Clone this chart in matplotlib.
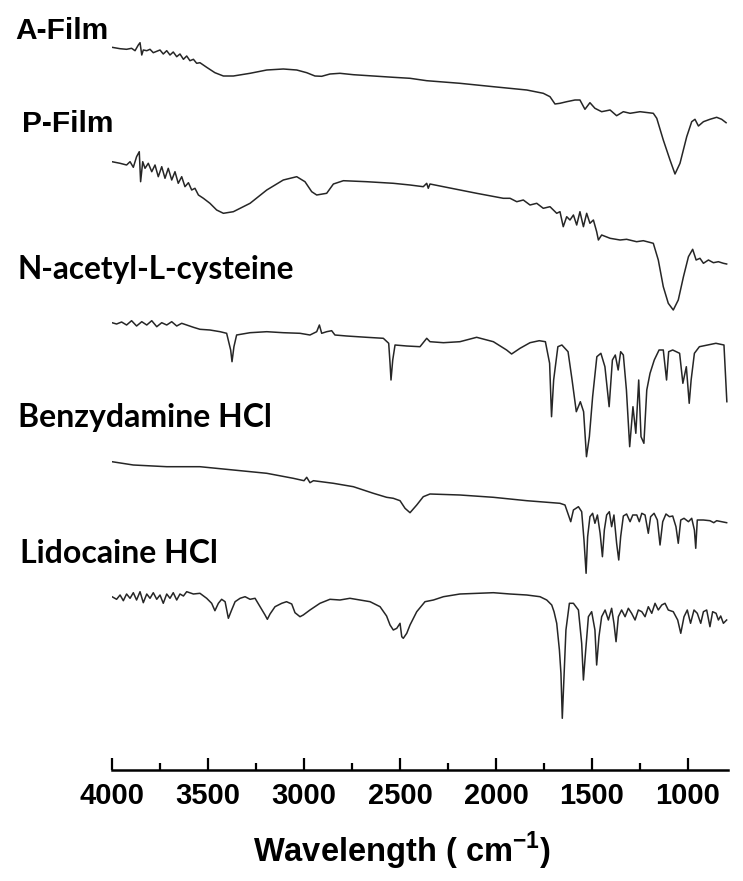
import matplotlib
matplotlib.use("Agg")
import matplotlib.pyplot as plt

# FTIR spectra (wavenumber in cm-1, offset transmittance in a.u.)
afilm_wn = [4000, 3958, 3924, 3898, 3880, 3863, 3854, 3845, 3837, 3819, 3802, 3785, 3767, 3750, 3733,
            3715, 3698, 3681, 3663, 3646, 3628, 3611, 3594, 3576, 3559, 3542, 3507, 3464, 3420, 3368,
            3281, 3194, 3108, 3038, 2986, 2943, 2908, 2865, 2813, 2743, 2639, 2535, 2448, 2361, 2188,
            2014, 1840, 1754, 1719, 1693, 1667, 1632, 1589, 1563, 1537, 1511, 1485, 1450, 1406, 1372,
            1337, 1302, 1250, 1181, 1163, 1129, 1094, 1068, 1042, 1007, 981, 964, 946, 920, 886,
            851, 825, 802]
afilm_t = [722.7, 721.3, 720.7, 721.7, 719.3, 725, 727.3, 715, 720, 719.3, 720.7, 717.3, 718.7, 720, 716,
           719.3, 715, 718, 713.3, 716, 710.7, 714, 709.3, 710.7, 706.7, 707.3, 702.7, 697.3, 694, 694,
           696.7, 700, 701, 700, 697.3, 694, 693.7, 696, 696.7, 695.3, 694, 692.7, 691.7, 689.3, 686.7,
           683.3, 680, 676.7, 673.3, 666, 666.7, 668.3, 670, 670, 660.7, 667.3, 661.7, 658.3, 660, 654.3,
           658.3, 656.7, 658.3, 656.7, 651.7, 630, 610, 596, 606.7, 633.3, 648.3, 650.7, 644, 648.3, 650.7,
           652.7, 650.7, 647.3]

pfilm_wn = [4000, 3958, 3924, 3906, 3889, 3872, 3858, 3851, 3840, 3828, 3811, 3793, 3776, 3759, 3741,
            3724, 3707, 3689, 3672, 3655, 3637, 3620, 3602, 3585, 3568, 3550, 3524, 3490, 3455, 3420,
            3368, 3281, 3194, 3108, 3038, 2995, 2960, 2934, 2882, 2847, 2795, 2674, 2535, 2448, 2379,
            2361, 2353, 2344, 2274, 2101, 1962, 1927, 1892, 1858, 1823, 1788, 1754, 1719, 1684, 1667,
            1650, 1632, 1615, 1597, 1580, 1563, 1545, 1528, 1511, 1493, 1476, 1467, 1450, 1406, 1354,
            1320, 1268, 1233, 1181, 1155, 1129, 1103, 1077, 1051, 1024, 998, 976, 958, 938, 920,
            894, 868, 842, 816, 799]
pfilm_t = [608.3, 606.7, 605, 608.3, 602.7, 613.3, 618.3, 588.3, 608.3, 601.7, 606.7, 598.3, 605, 593.3, 603.3,
           591.7, 601.7, 590, 598.3, 586.7, 593.3, 583.3, 587.3, 580, 581.7, 575, 571.7, 566.7, 560, 556.7,
           558.3, 566.7, 580, 590, 593.3, 588.3, 578.3, 575, 576.7, 586, 589.3, 588.3, 586.7, 585, 583.3,
           586.7, 581.7, 586, 583.3, 576.7, 571.7, 571.7, 568.3, 570, 565, 566.7, 561.7, 563.3, 556.7, 558.3,
           543.3, 553.3, 550, 555, 545, 558.3, 543.3, 556.7, 546.7, 550, 538.3, 530, 535, 531.7, 530,
           530.7, 528.3, 529.3, 526.7, 510, 483.3, 466.7, 460, 470, 493.3, 513.3, 520.7, 510, 511.7, 506.7,
           510, 507.3, 508.3, 506.7, 506]

nac_wn = [4000, 3976, 3950, 3924, 3898, 3872, 3845, 3819, 3793, 3767, 3741, 3715, 3689, 3663, 3637,
          3611, 3576, 3542, 3490, 3437, 3403, 3382, 3375, 3365, 3351, 3281, 3194, 3108, 3021, 2969,
          2934, 2920, 2908, 2882, 2856, 2839, 2778, 2674, 2587, 2559, 2552, 2547, 2538, 2526, 2465,
          2396, 2361, 2344, 2274, 2188, 2101, 2014, 1945, 1919, 1875, 1823, 1775, 1743, 1721, 1711,
          1700, 1678, 1657, 1625, 1604, 1582, 1561, 1544, 1529, 1514, 1497, 1475, 1454, 1433, 1411,
          1394, 1379, 1364, 1351, 1337, 1321, 1304, 1287, 1272, 1257, 1245, 1230, 1215, 1198, 1176,
          1151, 1129, 1112, 1101, 1080, 1044, 1027, 1009, 994, 984, 967, 941, 898, 855, 813, 798]
nac_t = [447.3, 446, 448, 445, 449.3, 444, 448.3, 445, 449.3, 443.3, 447.3, 445, 448.3, 444, 446.7,
         445, 442.7, 440.7, 440, 438.3, 436.7, 420, 408.3, 423.3, 435, 437.3, 438.3, 437.3, 436.7, 435,
         438.3, 445, 436.7, 438.3, 439.3, 435, 434, 432.7, 431.7, 426.7, 406.7, 390, 410, 425, 424,
         423.3, 431.7, 428.3, 427.3, 428.3, 432.7, 428.3, 420, 416, 421.7, 427.3, 429.3, 428.3, 406.7, 353.3,
         390, 423.3, 425, 418.3, 390, 358.3, 368.3, 358.3, 313.3, 333.3, 373.3, 413.3, 416.7, 403.3, 363.3,
         410, 415, 400, 418.3, 415, 380, 323.3, 363.3, 336.7, 390, 333.3, 326.7, 380, 396.7, 410,
         420, 420, 390, 418.3, 420, 416.7, 386.7, 403.3, 366.7, 390, 416.7, 423.3, 425, 426.7, 425, 368.3]

benz_wn = [4000, 3889, 3715, 3542, 3368, 3194, 3056, 3000, 2986, 2969, 2951, 2847, 2743, 2639, 2570,
           2535, 2500, 2474, 2448, 2413, 2379, 2344, 2188, 2014, 1840, 1667, 1641, 1623, 1611, 1597,
           1571, 1554, 1542, 1531, 1523, 1511, 1497, 1485, 1472, 1458, 1446, 1436, 1424, 1410, 1398,
           1386, 1372, 1361, 1351, 1337, 1320, 1302, 1288, 1267, 1254, 1241, 1224, 1207, 1195, 1177,
           1160, 1146, 1132, 1115, 1097, 1080, 1063, 1051, 1038, 1021, 998, 981, 967, 960, 952,
           920, 886, 866, 851, 825, 799]
benz_t = [308.3, 305, 303.3, 303.3, 300, 296.7, 291.7, 289.3, 292.7, 287.3, 289.3, 286.7, 283.3, 276.7, 272.7,
          271.7, 269.3, 261.7, 257.3, 265, 273.3, 276, 275, 272.7, 269.3, 266.7, 265, 255, 248.3, 260,
          263.3, 258.3, 230, 196.7, 233.3, 253.3, 256.7, 246.7, 255, 236.7, 213.3, 240, 255, 258.3, 243.3,
          255, 226.7, 210, 233.3, 254, 256, 248.3, 255, 255, 248.3, 256.7, 255, 236.7, 253.3, 256.7,
          250, 225, 248.3, 256, 253.3, 254, 243.3, 226.7, 250, 251.7, 248.3, 251.7, 240, 221.7, 250,
          250, 249.3, 247.3, 249.3, 248.3, 247.3]

lido_wn = [4000, 3976, 3958, 3941, 3924, 3906, 3889, 3872, 3854, 3837, 3819, 3802, 3785, 3767, 3750,
           3733, 3715, 3698, 3681, 3663, 3646, 3628, 3611, 3576, 3542, 3507, 3481, 3464, 3446, 3429,
           3411, 3394, 3377, 3359, 3333, 3307, 3281, 3255, 3229, 3203, 3191, 3177, 3151, 3116, 3091,
           3064, 3047, 3021, 3004, 2969, 2917, 2865, 2813, 2761, 2708, 2656, 2604, 2570, 2552, 2535,
           2517, 2500, 2491, 2483, 2465, 2448, 2413, 2370, 2326, 2274, 2188, 2101, 2014, 1927, 1840,
           1771, 1736, 1710, 1698, 1684, 1670, 1662, 1655, 1646, 1636, 1618, 1597, 1571, 1554, 1545,
           1533, 1519, 1502, 1485, 1476, 1464, 1450, 1432, 1415, 1398, 1386, 1375, 1363, 1346, 1328,
           1311, 1294, 1276, 1259, 1241, 1224, 1207, 1189, 1172, 1155, 1137, 1120, 1103, 1077, 1054,
           1038, 1021, 1004, 987, 969, 952, 934, 920, 903, 886, 872, 854, 842, 830, 816, 799]
lido_t = [173.3, 170.7, 175, 169.3, 176, 171.7, 177.3, 170, 178.3, 167.3, 176, 171.7, 177.3, 170.7, 175,
          166.7, 176, 171.7, 177.3, 170, 176, 174, 178.3, 176, 176.7, 171.7, 166.7, 159.3, 166.7, 170.7,
          168.3, 151.7, 160, 168.3, 171.7, 173.3, 170.7, 171.7, 163.3, 155, 150.7, 156, 163.3, 166.7, 168.3,
          166, 157.3, 153.3, 155, 160, 166.7, 170.7, 170, 171.7, 170, 168.3, 163.3, 154, 145, 140,
          141.7, 146.7, 133.3, 131.7, 136.7, 145, 158.3, 168.3, 170, 173.3, 176, 176.7, 177.3, 176, 175,
          173.3, 170, 165, 158.3, 146.7, 120, 96.7, 51.7, 93.3, 140, 166.7, 166.7, 160, 126.7, 90,
          120, 153.3, 158.3, 140, 105, 133.3, 153.3, 160, 150, 161.7, 146.7, 128.3, 153.3, 160, 153.3,
          161.7, 156.7, 150, 160, 158.3, 153.3, 163.3, 156.7, 166.7, 160, 165, 166.7, 160, 158.3, 150,
          136.7, 153.3, 160, 146.7, 160, 156.7, 146.7, 158.3, 160, 143.3, 158.3, 156.7, 150, 154, 146.7, 150]

tick_pos = [4000, 3500, 3000, 2500, 2000, 1500, 1000]
tick_labels = ["4000", "3500", "3000", "2500", "2000", "1500", "1000"]
minor_pos = [3750, 3250, 2750, 2250, 1750, 1250]

plt.rcParams["mathtext.fontset"] = "custom"
plt.rcParams["mathtext.rm"] = "Liberation Sans"
plt.rcParams["mathtext.bf"] = "Liberation Sans:bold"

W, H = 743, 881
fig = plt.figure(figsize=(W / 100, H / 100), dpi=100)
ax = fig.add_axes([112 / W, 111 / H, 616 / W, 770 / H])

for wn, t in [(afilm_wn, afilm_t), (pfilm_wn, pfilm_t), (nac_wn, nac_t),
              (benz_wn, benz_t), (lido_wn, lido_t)]:
    ax.plot(wn, t, color="#262626", lw=1.1)

ax.set_xlim(4000, 792)
ax.set_ylim(0, 770)
for s in ["left", "right", "top"]:
    ax.spines[s].set_visible(False)
ax.spines["bottom"].set_linewidth(1.8)
ax.set_yticks([])
ax.set_xticks(tick_pos)
ax.set_xticklabels(tick_labels, fontsize=21, fontweight="bold", family="Liberation Sans")
ax.set_xticks(minor_pos, minor=True)
ax.tick_params(axis="x", which="major", direction="in", length=9, width=1.6, pad=9)
ax.tick_params(axis="x", which="minor", direction="in", length=5, width=1.6)

fig.text(402 / W, (H - 862) / H, r"Wavelength ( cm$^{\mathbf{-1}}$)", ha="center", va="baseline",
         fontsize=23.5, fontweight="bold", family="Liberation Sans")

# spectrum names (pixel positions of left edge and baseline)
names = [("A-Film", 15, 39, "Liberation Sans", 21.5), ("P-Film", 22, 132, "Liberation Sans", 21.5),
         ("N-acetyl-L-cysteine", 18, 279, "Lato", 22.7), ("Benzydamine HCl", 18, 427, "Lato", 23),
         ("Lidocaine HCl", 20, 563, "Lato", 23)]
for txt, x, y, fam, size in names:
    fig.text(x / W, (H - y) / H, txt, ha="left", va="baseline", fontsize=size,
             fontweight="bold", family=fam)

fig.savefig("out.png", dpi=100)
